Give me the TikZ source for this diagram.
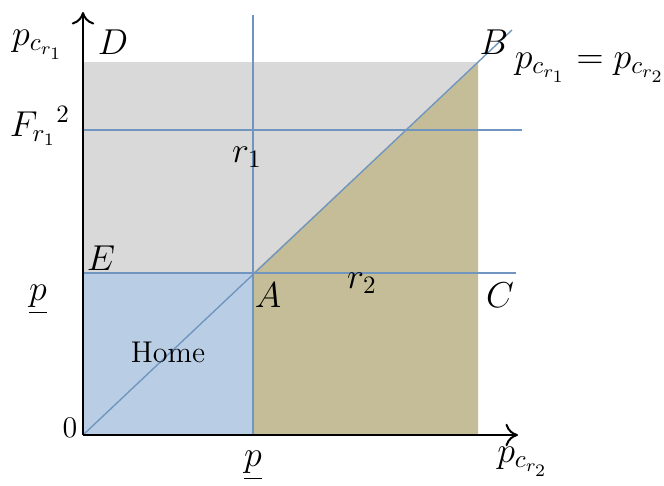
\documentclass[tikz,border=0pt]{standalone}
\usepackage{amsmath,amssymb}
\usetikzlibrary{arrows.meta,positioning}
\definecolor{homeblue}{RGB}{185,205,229}
\definecolor{regiongray}{RGB}{217,217,217}
\definecolor{regiontan}{RGB}{196,189,151}
\definecolor{lineblue}{RGB}{112,150,192}

\begin{document}
\begin{tikzpicture}[x=0.4pt,y=-0.4pt,font=\Large,
    axis/.style={line width=0.8pt,-{To[length=5pt,width=9pt]}},
    border/.style={lineblue,line width=0.55pt}]
        \useasboundingbox (0,0) rectangle (664,485);
        \coordinate (O) at (83,435);
        \coordinate (A) at (253,273);
        \coordinate (Bc) at (478,62);
        % Regions
        \fill[regiongray] (83,62) rectangle (478,273);
        \fill[homeblue] (O) rectangle (A);
        \fill[regiontan] (A) -- (Bc) -- (478,435) -- (253,435) -- cycle;
        % Borders r1, r2 and the diagonal
        \coordinate (vtop) at (253,15);
        \coordinate (vbot) at (253,435);
        \coordinate (hl) at (83,273);
        \coordinate (hr) at (516,273);
        \coordinate (fl) at (83,130);
        \coordinate (fr) at (522,130);
        \coordinate (dend) at (512,30);
        \draw[border] (vtop) -- (vbot);
        \draw[border] (hl) -- (hr);
        \draw[border] (fl) -- (fr);
        \draw[border] (O) -- (dend);
        % Axes
        \coordinate (ytip) at (83,12);
        \coordinate (xtip) at (518,435);
        \draw[axis] (O) -- (ytip);
        \draw[axis] (O) -- (xtip);
        % Labels
        \node (ylab) at (38,45) {$p_{c_{r_1}}$};
        \node (xlab) at (523,462) {$p_{c_{r_2}}$};
        \node[font=\large] (zero) at (70,428) {$0$};
        \node (D) at (113,42) {$D$};
        \node (B) at (494,42) {$B$};
        \node[inner sep=0pt] (eq) at (590,68) {$p_{c_{r_1}} = p_{c_{r_2}}$};
        \node (F) at (40,126) {$F_{r_1}{}^{2}$};
        \node (E) at (101,258) {$E$};
        \node (pl) at (38,300) {$\underline{p}$};
        \node (pb) at (253,466) {$\underline{p}$};
        \node (Al) at (268,295) {$A$};
        \node (C) at (500,295) {$C$};
        \node (r1) at (247,157) {$r_1$};
        \node (r2) at (362,283) {$r_2$};
        \node[font=\large] (home) at (168,352) {Home};
      \end{tikzpicture}
\end{document}
